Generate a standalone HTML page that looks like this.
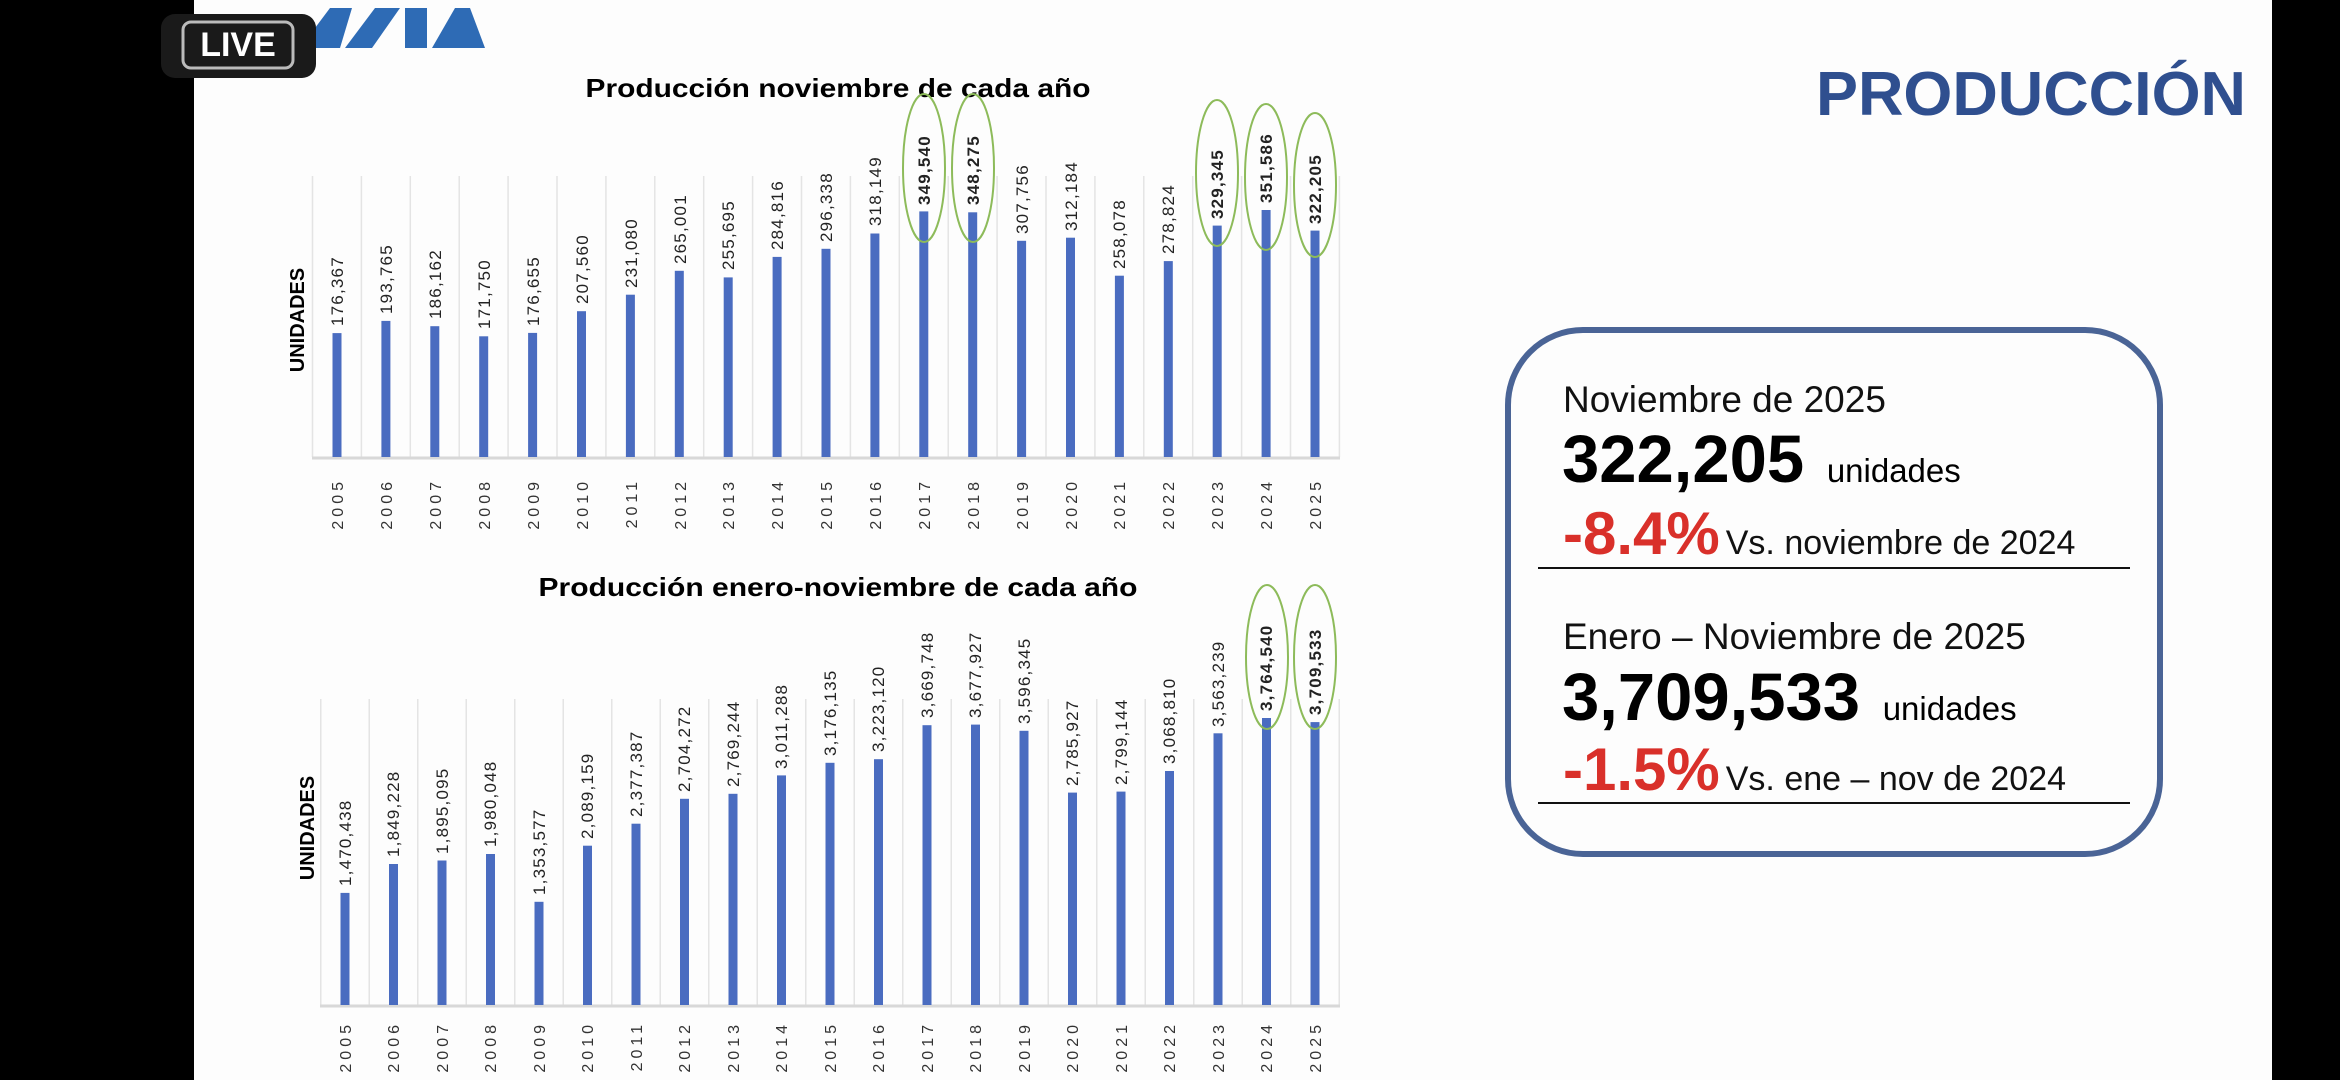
<!DOCTYPE html>
<html><head><meta charset="utf-8"><style>
html,body{margin:0;padding:0;background:#000;width:2340px;height:1080px;overflow:hidden}
</style></head><body>
<svg width="2340" height="1080" xmlns="http://www.w3.org/2000/svg" font-family="Liberation Sans, sans-serif">
<rect x="0" y="0" width="2340" height="1080" fill="#000"/>
<rect x="194" y="0" width="2078" height="1080" fill="#fdfdfd"/>
<!-- logo -->
<polygon points="300,48 330,8 352,8 340,48" fill="#2e6bb5"/>
<polygon points="345,48 375,8 400,8 372,48" fill="#2e6bb5"/>
<rect x="405" y="8" width="22" height="40" fill="#2e6bb5"/>
<polygon points="432,48 455,8 470,8 485,48" fill="#2e6bb5"/>
<!-- LIVE badge -->
<rect x="161" y="14" width="155" height="64" rx="14" fill="#1a1a1a"/>
<rect x="183" y="22" width="110" height="46" rx="8" fill="none" stroke="#bbb" stroke-width="3"/>
<text x="238" y="56" font-size="34" font-weight="bold" fill="#fff" text-anchor="middle">LIVE</text>

<!-- Chart 1 -->
<text x="838" y="97" font-size="26" font-weight="bold" text-anchor="middle" textLength="505" lengthAdjust="spacingAndGlyphs">Producción noviembre de cada año</text>
<g stroke="#e4e4e4" stroke-width="1.5">
<line x1="312.5" y1="176" x2="312.5" y2="457"/><line x1="361.4" y1="176" x2="361.4" y2="457"/><line x1="410.3" y1="176" x2="410.3" y2="457"/><line x1="459.2" y1="176" x2="459.2" y2="457"/><line x1="508.1" y1="176" x2="508.1" y2="457"/><line x1="557" y1="176" x2="557" y2="457"/><line x1="605.9" y1="176" x2="605.9" y2="457"/><line x1="654.8" y1="176" x2="654.8" y2="457"/><line x1="703.7" y1="176" x2="703.7" y2="457"/><line x1="752.6" y1="176" x2="752.6" y2="457"/><line x1="801.5" y1="176" x2="801.5" y2="457"/><line x1="850.4" y1="176" x2="850.4" y2="457"/><line x1="899.3" y1="176" x2="899.3" y2="457"/><line x1="948.2" y1="176" x2="948.2" y2="457"/><line x1="997.1" y1="176" x2="997.1" y2="457"/><line x1="1046" y1="176" x2="1046" y2="457"/><line x1="1094.9" y1="176" x2="1094.9" y2="457"/><line x1="1143.8" y1="176" x2="1143.8" y2="457"/><line x1="1192.7" y1="176" x2="1192.7" y2="457"/><line x1="1241.6" y1="176" x2="1241.6" y2="457"/><line x1="1290.5" y1="176" x2="1290.5" y2="457"/><line x1="1339.4" y1="176" x2="1339.4" y2="457"/>
</g>
<line x1="312" y1="458" x2="1340" y2="458" stroke="#d8d8d8" stroke-width="3"/>
<g fill="#4a6cc0">
<rect x="332.5" y="333.1" width="9" height="123.9"/><rect x="381.4" y="320.9" width="9" height="136.1"/><rect x="430.3" y="326.2" width="9" height="130.8"/><rect x="479.2" y="336.3" width="9" height="120.7"/><rect x="528.1" y="332.9" width="9" height="124.1"/><rect x="577" y="311.2" width="9" height="145.8"/><rect x="625.9" y="294.7" width="9" height="162.3"/><rect x="674.8" y="270.8" width="9" height="186.2"/><rect x="723.7" y="277.4" width="9" height="179.6"/><rect x="772.6" y="256.9" width="9" height="200.1"/><rect x="821.5" y="248.8" width="9" height="208.2"/><rect x="870.4" y="233.5" width="9" height="223.5"/><rect x="919.3" y="211.4" width="9" height="245.6"/><rect x="968.2" y="212.3" width="9" height="244.7"/><rect x="1017.1" y="240.8" width="9" height="216.2"/><rect x="1066" y="237.7" width="9" height="219.3"/><rect x="1114.9" y="275.7" width="9" height="181.3"/><rect x="1163.8" y="261.1" width="9" height="195.9"/><rect x="1212.7" y="225.6" width="9" height="231.4"/><rect x="1261.6" y="210" width="9" height="247"/><rect x="1310.5" y="230.6" width="9" height="226.4"/>
</g>
<g font-size="17" letter-spacing="1.2" fill="#222">
<text transform="translate(343,326) rotate(-90)">176,367</text>
<text transform="translate(392,314) rotate(-90)">193,765</text>
<text transform="translate(441,319) rotate(-90)">186,162</text>
<text transform="translate(490,329) rotate(-90)">171,750</text>
<text transform="translate(539,326) rotate(-90)">176,655</text>
<text transform="translate(588,304) rotate(-90)">207,560</text>
<text transform="translate(637,288) rotate(-90)">231,080</text>
<text transform="translate(686,264) rotate(-90)">265,001</text>
<text transform="translate(734,270) rotate(-90)">255,695</text>
<text transform="translate(783,250) rotate(-90)">284,816</text>
<text transform="translate(832,242) rotate(-90)">296,338</text>
<text transform="translate(881,226) rotate(-90)">318,149</text>
<text transform="translate(930,205) rotate(-90)" font-weight="bold">349,540</text>
<text transform="translate(979,205) rotate(-90)" font-weight="bold">348,275</text>
<text transform="translate(1028,234) rotate(-90)">307,756</text>
<text transform="translate(1077,231) rotate(-90)">312,184</text>
<text transform="translate(1125,269) rotate(-90)">258,078</text>
<text transform="translate(1174,254) rotate(-90)">278,824</text>
<text transform="translate(1223,219) rotate(-90)" font-weight="bold">329,345</text>
<text transform="translate(1272,203) rotate(-90)" font-weight="bold">351,586</text>
<text transform="translate(1321,224) rotate(-90)" font-weight="bold">322,205</text>
</g>
<g font-size="16" letter-spacing="4" fill="#333" text-anchor="end">
<text transform="translate(343,478) rotate(-90)">2005</text><text transform="translate(392,478) rotate(-90)">2006</text><text transform="translate(441,478) rotate(-90)">2007</text><text transform="translate(490,478) rotate(-90)">2008</text><text transform="translate(539,478) rotate(-90)">2009</text><text transform="translate(588,478) rotate(-90)">2010</text><text transform="translate(637,478) rotate(-90)">2011</text><text transform="translate(686,478) rotate(-90)">2012</text><text transform="translate(734,478) rotate(-90)">2013</text><text transform="translate(783,478) rotate(-90)">2014</text><text transform="translate(832,478) rotate(-90)">2015</text><text transform="translate(881,478) rotate(-90)">2016</text><text transform="translate(930,478) rotate(-90)">2017</text><text transform="translate(979,478) rotate(-90)">2018</text><text transform="translate(1028,478) rotate(-90)">2019</text><text transform="translate(1077,478) rotate(-90)">2020</text><text transform="translate(1125,478) rotate(-90)">2021</text><text transform="translate(1174,478) rotate(-90)">2022</text><text transform="translate(1223,478) rotate(-90)">2023</text><text transform="translate(1272,478) rotate(-90)">2024</text><text transform="translate(1321,478) rotate(-90)">2025</text>
</g>
<text transform="translate(304,320) rotate(-90)" font-size="20" font-weight="bold" text-anchor="middle">UNIDADES</text>
<g fill="none" stroke="#8dbb5a" stroke-width="2">
<ellipse cx="924" cy="168" rx="21" ry="74"/><ellipse cx="973" cy="168" rx="21" ry="74"/>
<ellipse cx="1217" cy="173" rx="21" ry="73"/><ellipse cx="1266" cy="177" rx="21" ry="73"/><ellipse cx="1315" cy="185" rx="21" ry="72"/>
</g>

<!-- Chart 2 -->
<text x="838" y="596" font-size="26" font-weight="bold" text-anchor="middle" textLength="599" lengthAdjust="spacingAndGlyphs">Producción enero-noviembre de cada año</text>
<g stroke="#e4e4e4" stroke-width="1.5">
<line x1="320.75" y1="699" x2="320.75" y2="1005"/><line x1="369.25" y1="699" x2="369.25" y2="1005"/><line x1="417.75" y1="699" x2="417.75" y2="1005"/><line x1="466.25" y1="699" x2="466.25" y2="1005"/><line x1="514.75" y1="699" x2="514.75" y2="1005"/><line x1="563.25" y1="699" x2="563.25" y2="1005"/><line x1="611.75" y1="699" x2="611.75" y2="1005"/><line x1="660.25" y1="699" x2="660.25" y2="1005"/><line x1="708.75" y1="699" x2="708.75" y2="1005"/><line x1="757.25" y1="699" x2="757.25" y2="1005"/><line x1="805.75" y1="699" x2="805.75" y2="1005"/><line x1="854.25" y1="699" x2="854.25" y2="1005"/><line x1="902.75" y1="699" x2="902.75" y2="1005"/><line x1="951.25" y1="699" x2="951.25" y2="1005"/><line x1="999.75" y1="699" x2="999.75" y2="1005"/><line x1="1048.25" y1="699" x2="1048.25" y2="1005"/><line x1="1096.75" y1="699" x2="1096.75" y2="1005"/><line x1="1145.25" y1="699" x2="1145.25" y2="1005"/><line x1="1193.75" y1="699" x2="1193.75" y2="1005"/><line x1="1242.25" y1="699" x2="1242.25" y2="1005"/><line x1="1290.75" y1="699" x2="1290.75" y2="1005"/><line x1="1339.25" y1="699" x2="1339.25" y2="1005"/>
</g>
<line x1="320" y1="1006" x2="1340" y2="1006" stroke="#d8d8d8" stroke-width="3"/>
<g fill="#4a6cc0">
<rect x="340.5" y="892.9" width="9" height="112.1"/><rect x="389" y="864" width="9" height="141"/><rect x="437.5" y="860.5" width="9" height="144.5"/><rect x="486" y="854" width="9" height="151"/><rect x="534.5" y="901.8" width="9" height="103.2"/><rect x="583" y="845.7" width="9" height="159.3"/><rect x="631.5" y="823.7" width="9" height="181.3"/><rect x="680" y="798.8" width="9" height="206.2"/><rect x="728.5" y="793.8" width="9" height="211.2"/><rect x="777" y="775.4" width="9" height="229.6"/><rect x="825.5" y="762.8" width="9" height="242.2"/><rect x="874" y="759.2" width="9" height="245.8"/><rect x="922.5" y="725.2" width="9" height="279.8"/><rect x="971" y="724.6" width="9" height="280.4"/><rect x="1019.5" y="730.8" width="9" height="274.2"/><rect x="1068" y="792.6" width="9" height="212.4"/><rect x="1116.5" y="791.6" width="9" height="213.4"/><rect x="1165" y="771" width="9" height="234"/><rect x="1213.5" y="733.3" width="9" height="271.7"/><rect x="1262" y="718" width="9" height="287"/><rect x="1310.5" y="722.1" width="9" height="282.9"/>
</g>
<g font-size="17" letter-spacing="1.2" fill="#222">
<text transform="translate(351,886) rotate(-90)">1,470,438</text>
<text transform="translate(399,857) rotate(-90)">1,849,228</text>
<text transform="translate(448,854) rotate(-90)">1,895,095</text>
<text transform="translate(496,847) rotate(-90)">1,980,048</text>
<text transform="translate(545,895) rotate(-90)">1,353,577</text>
<text transform="translate(593,839) rotate(-90)">2,089,159</text>
<text transform="translate(642,817) rotate(-90)">2,377,387</text>
<text transform="translate(690,792) rotate(-90)">2,704,272</text>
<text transform="translate(739,787) rotate(-90)">2,769,244</text>
<text transform="translate(787,769) rotate(-90)">3,011,288</text>
<text transform="translate(836,756) rotate(-90)">3,176,135</text>
<text transform="translate(884,752) rotate(-90)">3,223,120</text>
<text transform="translate(933,718) rotate(-90)">3,669,748</text>
<text transform="translate(981,718) rotate(-90)">3,677,927</text>
<text transform="translate(1030,724) rotate(-90)">3,596,345</text>
<text transform="translate(1078,786) rotate(-90)">2,785,927</text>
<text transform="translate(1127,785) rotate(-90)">2,799,144</text>
<text transform="translate(1175,764) rotate(-90)">3,068,810</text>
<text transform="translate(1224,727) rotate(-90)">3,563,239</text>
<text transform="translate(1272,711) rotate(-90)" font-weight="bold">3,764,540</text>
<text transform="translate(1321,715) rotate(-90)" font-weight="bold">3,709,533</text>
</g>
<g font-size="16" letter-spacing="4" fill="#333" text-anchor="end">
<text transform="translate(351,1021) rotate(-90)">2005</text><text transform="translate(399,1021) rotate(-90)">2006</text><text transform="translate(448,1021) rotate(-90)">2007</text><text transform="translate(496,1021) rotate(-90)">2008</text><text transform="translate(545,1021) rotate(-90)">2009</text><text transform="translate(593,1021) rotate(-90)">2010</text><text transform="translate(642,1021) rotate(-90)">2011</text><text transform="translate(690,1021) rotate(-90)">2012</text><text transform="translate(739,1021) rotate(-90)">2013</text><text transform="translate(787,1021) rotate(-90)">2014</text><text transform="translate(836,1021) rotate(-90)">2015</text><text transform="translate(884,1021) rotate(-90)">2016</text><text transform="translate(933,1021) rotate(-90)">2017</text><text transform="translate(981,1021) rotate(-90)">2018</text><text transform="translate(1030,1021) rotate(-90)">2019</text><text transform="translate(1078,1021) rotate(-90)">2020</text><text transform="translate(1127,1021) rotate(-90)">2021</text><text transform="translate(1175,1021) rotate(-90)">2022</text><text transform="translate(1224,1021) rotate(-90)">2023</text><text transform="translate(1272,1021) rotate(-90)">2024</text><text transform="translate(1321,1021) rotate(-90)">2025</text>
</g>
<text transform="translate(314,828) rotate(-90)" font-size="20" font-weight="bold" text-anchor="middle">UNIDADES</text>
<g fill="none" stroke="#8dbb5a" stroke-width="2">
<ellipse cx="1267" cy="657" rx="21" ry="72"/><ellipse cx="1315" cy="657" rx="21" ry="72"/>
</g>

<!-- Right panel -->
<text x="2246" y="115" font-size="62" font-weight="bold" fill="#2f4f8f" text-anchor="end" textLength="430" lengthAdjust="spacingAndGlyphs">PRODUCCIÓN</text>
<rect x="1508" y="330" width="652" height="524" rx="75" fill="none" stroke="#4a6496" stroke-width="6"/>
<text x="1563" y="412" font-size="37" fill="#111">Noviembre de 2025</text>
<text x="1562" y="482" font-size="67" font-weight="bold" fill="#000">322,205 <tspan font-size="33" font-weight="normal" dx="4">unidades</tspan></text>
<text x="1563" y="554" font-size="60" font-weight="bold" fill="#d9302a">-8.4%<tspan font-size="34" font-weight="normal" fill="#111" dx="6">Vs. noviembre de 2024</tspan></text>
<line x1="1538" y1="568" x2="2130" y2="568" stroke="#111" stroke-width="2"/>
<text x="1563" y="649" font-size="37" fill="#111">Enero – Noviembre de 2025</text>
<text x="1562" y="720" font-size="67" font-weight="bold" fill="#000">3,709,533 <tspan font-size="33" font-weight="normal" dx="4">unidades</tspan></text>
<text x="1563" y="790" font-size="60" font-weight="bold" fill="#d9302a">-1.5%<tspan font-size="34" font-weight="normal" fill="#111" dx="6">Vs. ene – nov de 2024</tspan></text>
<line x1="1538" y1="803" x2="2130" y2="803" stroke="#111" stroke-width="2"/>
</svg>
</body></html>
